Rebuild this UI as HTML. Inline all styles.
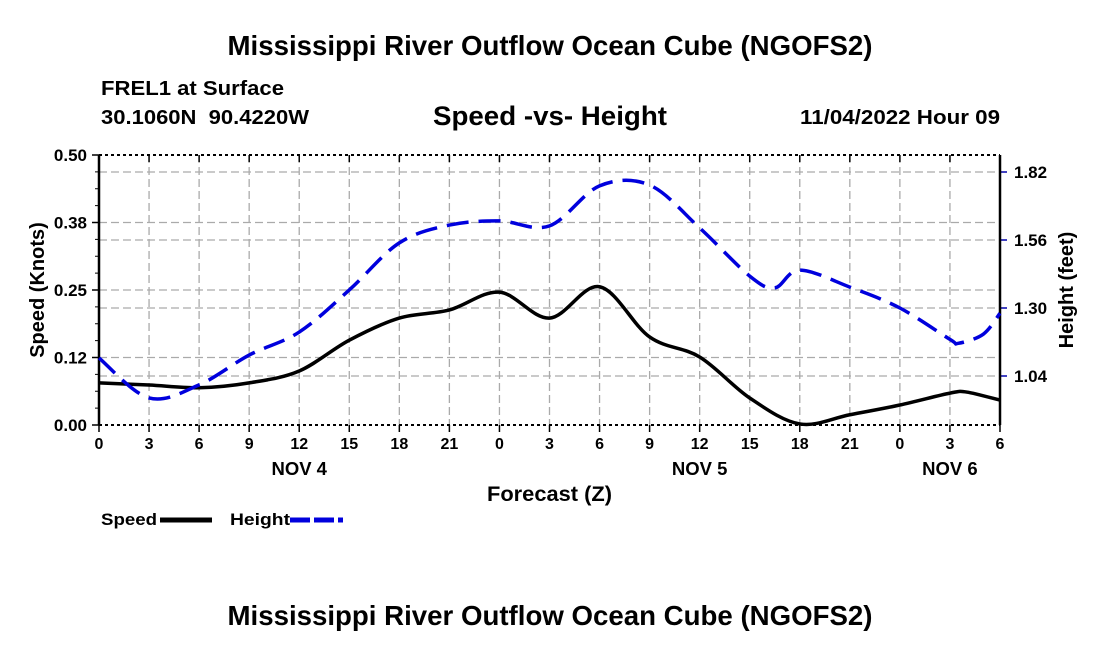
<!DOCTYPE html>
<html><head><meta charset="utf-8"><style>
body{margin:0;background:#fff;width:1100px;height:650px;overflow:hidden}
svg{font-family:"Liberation Sans",Arial,sans-serif;font-weight:bold}
</style></head><body>
<svg id="chart" width="1100" height="650" viewBox="0 0 1100 650">
<text x="550" y="55" font-size="27.5" text-anchor="middle" textLength="645" lengthAdjust="spacingAndGlyphs">Mississippi River Outflow Ocean Cube (NGOFS2)</text>
<text x="101" y="95" font-size="20" textLength="183" lengthAdjust="spacingAndGlyphs">FREL1 at Surface</text>
<text x="101" y="124" font-size="20" textLength="208" lengthAdjust="spacingAndGlyphs" xml:space="preserve">30.1060N  90.4220W</text>
<text x="433" y="125" font-size="27" textLength="234" lengthAdjust="spacingAndGlyphs">Speed -vs- Height</text>
<text x="800" y="124" font-size="20" textLength="200" lengthAdjust="spacingAndGlyphs">11/04/2022 Hour 09</text>
<g id="grid"></g>
<g id="axes"></g>
<g id="series"></g>
<text transform="translate(44,290) rotate(-90)" font-size="20" text-anchor="middle">Speed (Knots)</text>
<text transform="translate(1073,290) rotate(-90)" font-size="20" text-anchor="middle">Height (feet)</text>
<text x="487" y="501" font-size="21" textLength="125" lengthAdjust="spacingAndGlyphs">Forecast (Z)</text>
<g><text x="101" y="525" font-size="17" textLength="56" lengthAdjust="spacingAndGlyphs">Speed</text><line x1="160" y1="520" x2="212" y2="520" stroke="#000" stroke-width="5"/></g>
<g><text x="230" y="525" font-size="17" textLength="60" lengthAdjust="spacingAndGlyphs">Height</text><line x1="290" y1="520" x2="343" y2="520" stroke="#0000dd" stroke-width="5" stroke-dasharray="20 4"/></g>
<text x="550" y="625" font-size="27.5" text-anchor="middle" textLength="645" lengthAdjust="spacingAndGlyphs">Mississippi River Outflow Ocean Cube (NGOFS2)</text>
</svg>
<script>
const speedHours=[0,3,6,9,12,15,18,21,24,27,30,33,36,39,42,45,48,51,52,54];
const speedValues=[0.078,0.074,0.069,0.078,0.10,0.157,0.198,0.213,0.246,0.198,0.256,0.163,0.126,0.05,0.002,0.019,0.037,0.059,0.061,0.046];
const heightHours=[0,3,6,9,12,15,18,21,24,27,30,33,36,39,40.5,42,45,48,51,51.5,53,54];
const heightValues=[1.109,0.956,1.006,1.12,1.208,1.369,1.549,1.617,1.633,1.614,1.767,1.77,1.606,1.422,1.377,1.445,1.38,1.30,1.18,1.165,1.20,1.28];
const xTickLabels=["0","3","6","9","12","15","18","21","0","3","6","9","12","15","18","21","0","3","6"];
const dayLabels=["NOV 4","NOV 5","NOV 6"];
const dayHours=[12,36,51];
const leftTicks=[0,0.125,0.25,0.375,0.5];
const leftTickLabels=["0.00","0.12","0.25","0.38","0.50"];
const rightTicks=[1.04,1.30,1.56,1.82];
const rightTickLabels=["1.04","1.30","1.56","1.82"];

const L=99,R=1000,T=155,B=425;
const xS=h=>L+(R-L)*h/54;
const yS=v=>B-(B-T)*v/0.5;
const yH=h=>376-(h-1.04)*68/0.26;
const NS="http://www.w3.org/2000/svg";
function mk(tag,attrs,parent){const e=document.createElementNS(NS,tag);for(const k in attrs)e.setAttribute(k,attrs[k]);parent.appendChild(e);return e;}
const grid=document.getElementById('grid'),axes=document.getElementById('axes'),ser=document.getElementById('series');
const gs={stroke:"#aaa","stroke-width":1.3,"stroke-dasharray":"8 4"};
xTickLabels.forEach((t,i)=>{const x=xS(i*3);
 if(i>0&&i<18){const g=mk('line',Object.assign({x1:x,x2:x,y1:T,y2:B},gs),grid);}
 mk('line',{x1:x,x2:x,y1:B,y2:B+7,stroke:"#000","stroke-width":1.5},axes);
 mk('line',{x1:x,x2:x,y1:T,y2:T+7,stroke:"#000","stroke-width":1.5},axes);
 const tx=mk('text',{x:x,y:B+24,"font-size":16,"text-anchor":"middle"},axes);tx.textContent=t;
 });
dayLabels.forEach((d,i)=>{const tx=mk('text',{x:xS(dayHours[i]),y:B+50,"font-size":18.5,"text-anchor":"middle"},axes);tx.textContent=d;
 });
leftTicks.forEach((v,i)=>{const y=yS(v);
 if(i>0&&i<4){const g=mk('line',Object.assign({x1:L,x2:R,y1:y,y2:y},gs),grid);}
 mk('line',{x1:L-7,x2:L,y1:y,y2:y,stroke:"#000","stroke-width":1.5},axes);
 const tx=mk('text',{x:L-12,y:y+6,"font-size":17,"text-anchor":"end"},axes);tx.textContent=leftTickLabels[i];
 });
rightTicks.forEach((v,i)=>{const y=yH(v);
 const g=mk('line',Object.assign({x1:L,x2:R,y1:y,y2:y},gs),grid);
 mk('line',{x1:R,x2:R+7,y1:y,y2:y,stroke:"#0000aa","stroke-width":1.5},axes);
 const tx=mk('text',{x:R+14,y:y+6,"font-size":17},axes);tx.textContent=rightTickLabels[i];
 });
for(let i=1;i<16;i++){if(i%4==0)continue;const y=T+(B-T)*i/16;mk('line',{x1:L-4,x2:L,y1:y,y2:y,stroke:"#000","stroke-width":1},axes);}
mk('line',{x1:L,x2:R,y1:T,y2:T,stroke:"#000","stroke-width":2,"stroke-dasharray":"3 3"},axes);
mk('line',{x1:L,x2:R,y1:B,y2:B,stroke:"#000","stroke-width":2,"stroke-dasharray":"3 3"},axes);
mk('line',{x1:L,x2:L,y1:T,y2:B,stroke:"#000","stroke-width":2.5},axes);
mk('line',{x1:R,x2:R,y1:T,y2:B,stroke:"#000","stroke-width":2.5},axes);
function smooth(pts){let d=`M${pts[0][0]},${pts[0][1]}`;
 for(let i=0;i<pts.length-1;i++){const p0=pts[Math.max(i-1,0)],p1=pts[i],p2=pts[i+1],p3=pts[Math.min(i+2,pts.length-1)];
  const c1=[p1[0]+(p2[0]-p0[0])/6,p1[1]+(p2[1]-p0[1])/6],c2=[p2[0]-(p3[0]-p1[0])/6,p2[1]-(p3[1]-p1[1])/6];
  d+=` C${c1[0]},${c1[1]} ${c2[0]},${c2[1]} ${p2[0]},${p2[1]}`;}return d;}
const sp=mk('path',{d:smooth(speedHours.map((h,i)=>[xS(h),yS(speedValues[i])])),fill:"none",stroke:"#000","stroke-width":3.5},ser);


const hp=mk('path',{d:smooth(heightHours.map((h,i)=>[xS(h),yH(heightValues[i])])),fill:"none",stroke:"#0000dd","stroke-width":3.5,"stroke-dasharray":"22 10"},ser);


</script>
</body></html>
